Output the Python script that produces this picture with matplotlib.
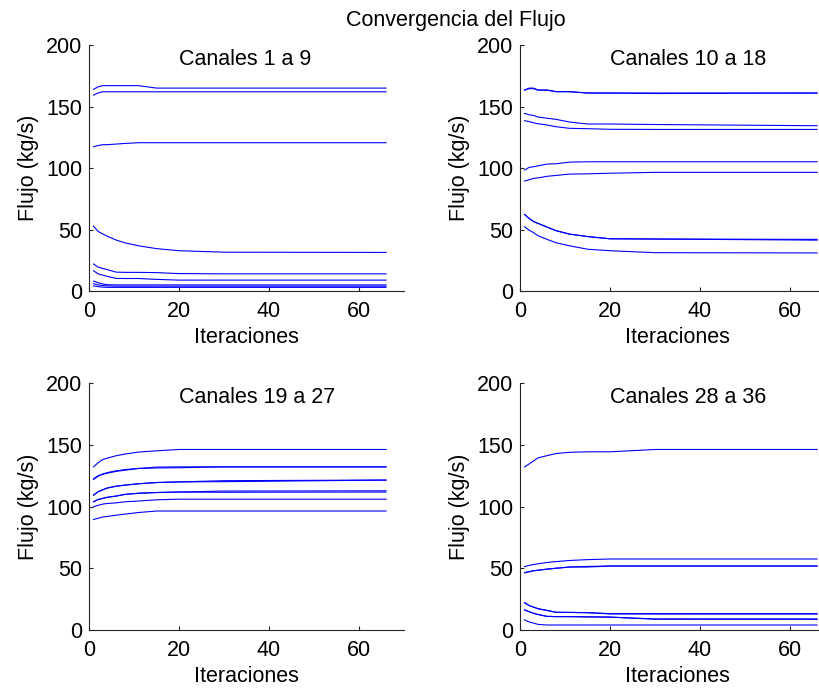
import numpy as np
import matplotlib
matplotlib.use("Agg")
import matplotlib.pyplot as plt

plt.rcParams['font.family'] = ['Liberation Sans', 'DejaVu Sans']
plt.rcParams['font.size'] = 15.5

# iteraciones donde se leyeron los valores
iters = [1, 2, 3, 4, 6, 8, 11, 15, 20, 30, 66]

# Canales 1 a 9
flujo_1_9 = [
    [164.0, 166.0, 167.0, 167.0, 167.0, 167.0, 167.0, 165.0, 165.0, 165.0, 165.0],
    [159.3, 161.0, 162.0, 162.0, 162.0, 162.0, 162.0, 162.0, 162.0, 162.0, 162.0],
    [117.3, 118.3, 119.0, 119.0, 119.5, 120.0, 120.6, 120.6, 120.6, 120.6, 120.6],
    [52.8, 48.5, 46.5, 44.7, 41.5, 39.2, 36.8, 34.5, 32.8, 31.6, 31.4],
    [22.0, 19.5, 18.4, 17.5, 15.4, 15.2, 15.2, 15.0, 14.2, 14.0, 14.0],
    [16.5, 14.0, 13.0, 12.0, 10.3, 10.2, 10.2, 9.5, 8.9, 8.9, 8.9],
    [8.1, 6.8, 5.8, 5.2, 5.0, 5.0, 5.0, 5.0, 5.0, 5.0, 5.0],
    [6.0, 5.0, 4.5, 4.2, 4.0, 4.0, 4.0, 4.0, 4.0, 4.0, 4.0],
    [4.2, 3.6, 3.2, 3.0, 3.0, 3.0, 3.0, 3.0, 3.0, 3.0, 3.0],
]

# Canales 10 a 18
flujo_10_18 = [
    [163.4, 164.5, 164.5, 163.4, 163.4, 162.1, 162.1, 161.0, 161.0, 161.0, 161.0],
    [163.4, 165.0, 165.0, 163.4, 163.4, 162.1, 162.1, 161.0, 161.0, 160.6, 161.0],
    [144.4, 143.3, 142.8, 141.5, 140.5, 139.6, 137.4, 135.8, 135.8, 135.4, 134.4],
    [138.5, 137.8, 136.8, 136.0, 135.0, 133.6, 132.3, 132.0, 131.5, 131.4, 131.4],
    [98.4, 100.5, 101.1, 101.8, 103.2, 103.5, 104.8, 105.1, 105.1, 105.1, 105.1],
    [89.4, 90.5, 91.6, 92.0, 93.3, 94.0, 95.1, 95.3, 95.8, 96.5, 96.5],
    [62.3, 59.1, 56.5, 55.0, 52.0, 49.1, 46.3, 44.3, 42.5, 42.3, 42.0],
    [62.3, 59.1, 56.5, 55.0, 52.0, 49.1, 46.3, 44.3, 42.5, 42.3, 41.4],
    [52.3, 49.5, 47.5, 45.0, 42.0, 39.3, 36.8, 34.0, 32.8, 31.2, 31.0],
]

# Canales 19 a 27
flujo_19_27 = [
    [132.2, 135.5, 138.0, 139.2, 141.2, 142.6, 144.2, 145.2, 146.3, 146.3, 146.3],
    [122.0, 124.5, 126.4, 127.5, 129.0, 130.0, 130.9, 132.0, 132.2, 132.2, 132.2],
    [122.5, 125.0, 126.1, 127.0, 128.5, 129.5, 130.9, 131.3, 131.5, 132.2, 132.2],
    [109.3, 112.0, 113.5, 115.0, 116.5, 117.4, 118.5, 119.5, 120.0, 121.0, 121.5],
    [109.3, 112.0, 113.5, 115.0, 116.5, 117.4, 118.5, 119.5, 120.0, 120.2, 121.5],
    [103.9, 105.7, 106.6, 107.5, 108.5, 109.9, 110.8, 111.4, 111.8, 112.6, 112.8],
    [103.9, 105.7, 106.6, 107.5, 108.5, 109.9, 110.8, 111.4, 111.8, 111.6, 111.8],
    [99.9, 101.0, 102.0, 102.5, 103.0, 103.9, 104.5, 105.5, 106.0, 106.0, 106.0],
    [89.6, 90.5, 91.5, 92.0, 93.0, 93.9, 95.2, 96.4, 96.4, 96.4, 96.4],
]

# Canales 28 a 36
flujo_28_36 = [
    [132.2, 134.5, 137.0, 139.5, 141.3, 143.0, 144.0, 144.4, 144.4, 146.3, 146.3],
    [51.3, 52.3, 53.0, 53.6, 54.7, 55.4, 56.3, 57.0, 57.5, 57.5, 57.5],
    [46.4, 47.2, 48.0, 48.4, 49.3, 50.0, 51.0, 51.5, 51.8, 51.8, 51.8],
    [46.4, 47.2, 48.0, 48.4, 49.3, 50.0, 51.0, 51.0, 51.8, 51.8, 51.8],
    [22.1, 19.8, 18.5, 17.2, 15.8, 14.3, 14.2, 14.0, 13.2, 13.2, 13.2],
    [22.1, 19.8, 18.5, 17.2, 15.8, 14.3, 14.2, 14.0, 13.0, 12.9, 12.9],
    [16.2, 14.8, 13.5, 12.5, 11.0, 10.8, 10.8, 10.6, 10.4, 8.9, 8.9],
    [16.2, 14.8, 13.5, 12.5, 11.0, 10.8, 10.8, 10.6, 10.4, 8.7, 8.6],
    [8.1, 6.5, 5.5, 4.5, 4.0, 4.0, 4.0, 4.0, 4.0, 4.0, 4.0],
]

titulos = ['Canales 1 a 9', 'Canales 10 a 18', 'Canales 19 a 27', 'Canales 28 a 36']
datos = [flujo_1_9, flujo_10_18, flujo_19_27, flujo_28_36]

fig = plt.figure(figsize=(8.19, 6.93), dpi=100)

# posiciones en fraccion de figura (la figura original esta recortada a la derecha)
posiciones = [
    [0.1087, 0.580, 0.3846, 0.355],
    [0.635, 0.580, 0.3846, 0.355],
    [0.1087, 0.091, 0.3846, 0.356],
    [0.635, 0.091, 0.3846, 0.356],
]

for pos, titulo, flujos in zip(posiciones, titulos, datos):
    ax = fig.add_axes(pos)
    for f in flujos:
        ax.plot(iters, f, color='#0000ff', linewidth=0.8)
    ax.set_xlim(0, 70)
    ax.set_ylim(0, 200)
    ax.set_xticks([0, 20, 40, 60])
    ax.set_yticks([0, 50, 100, 150, 200])
    ax.spines['top'].set_visible(False)
    ax.spines['right'].set_visible(False)
    ax.spines['left'].set_color('#262626')
    ax.spines['bottom'].set_color('#262626')
    ax.tick_params(direction='in', length=3, width=0.8, color='#262626')
    ax.tick_params(axis='x', pad=7)
    ax.tick_params(axis='y', pad=5)
    ax.set_xlabel('Iteraciones', labelpad=4)
    ax.set_ylabel('Flujo (kg/s)', labelpad=5)
    ax.text(20, 184, titulo, ha='left', va='baseline')

fig.text(0.556, 0.971, 'Convergencia del Flujo', ha='center', va='center')

plt.savefig('out.png', dpi=100)
